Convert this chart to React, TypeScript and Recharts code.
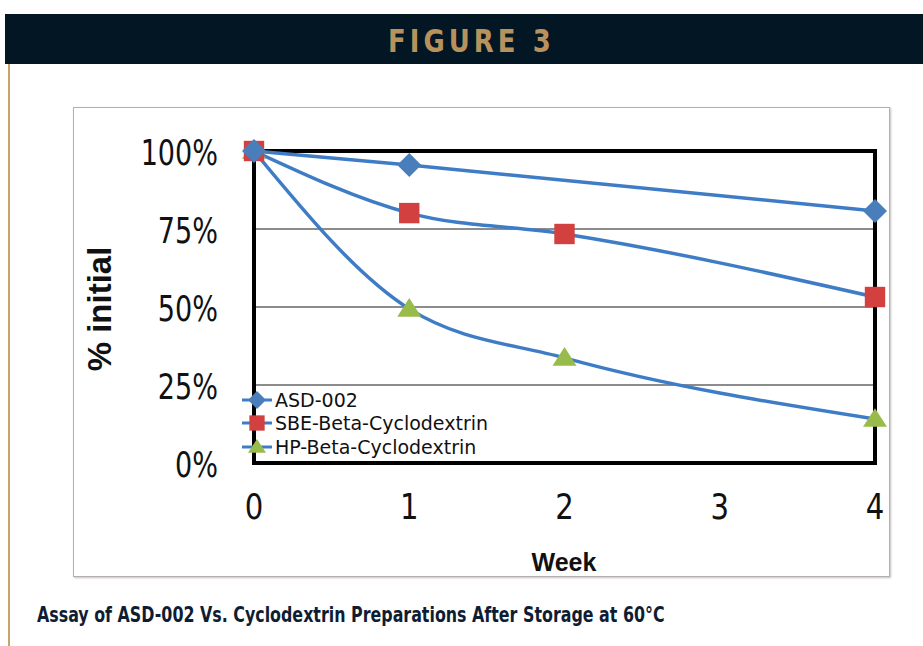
import React from "react";
import {
  CartesianGrid,
  Legend,
  Line,
  LineChart,
  ReferenceArea,
  XAxis,
  YAxis,
} from "recharts";

const weeks = [0, 1, 2, 4];
const asd002 = [100, 95.5, null, 80.8];
const sbeBeta = [100, 80.1, 73.4, 53.2];
const hpBeta = [100, 49.4, 33.7, 14.1];

const yTicks = [0, 25, 50, 75, 100];
const xTicks = [0, 1, 2, 3, 4];

const LINE_BLUE = "#3f7cc6";
const CONDENSED = "'DejaVu Sans Condensed', 'Liberation Sans', sans-serif";

type Shape = "diamond" | "square" | "triangle";

const series: { name: string; values: (number | null)[]; shape: Shape; color: string }[] = [
  { name: "ASD-002", values: asd002, shape: "diamond", color: "#4a7ebb" },
  { name: "SBE-Beta-Cyclodextrin", values: sbeBeta, shape: "square", color: "#d2413f" },
  { name: "HP-Beta-Cyclodextrin", values: hpBeta, shape: "triangle", color: "#98bb4c" },
];

function toRows(values: (number | null)[]) {
  return weeks
    .map((w, i) => ({ week: w, value: values[i] }))
    .filter((r) => r.value !== null);
}

function Marker({ shape, color, cx, cy, r }: { shape: Shape; color: string; cx: number; cy: number; r: number }) {
  if (shape === "diamond") {
    return (
      <polygon
        points={`${cx},${cy - r} ${cx + r},${cy} ${cx},${cy + r} ${cx - r},${cy}`}
        fill={color}
      />
    );
  }
  if (shape === "square") {
    const s = r * 0.85;
    return <rect x={cx - s} y={cy - s} width={s * 2} height={s * 2} fill={color} />;
  }
  return (
    <polygon
      points={`${cx},${cy - r * 0.9} ${cx + r},${cy + r * 0.65} ${cx - r},${cy + r * 0.65}`}
      fill={color}
    />
  );
}

function makeDot(shape: Shape, color: string) {
  return (props: any) => {
    const { cx, cy, index } = props;
    if (cx == null || cy == null) return <g key={index} />;
    return (
      <g key={`${shape}-${index}`}>
        <Marker shape={shape} color={color} cx={cx} cy={cy} r={12} />
      </g>
    );
  };
}

// y ticks: condensed a little so "100%" matches the narrow face of the original
function YTick(props: any) {
  const { x, y, payload } = props;
  return (
    <g transform={`translate(${x},${y + 1}) scale(0.86,1)`}>
      <text
        x={0}
        y={0}
        dy="0.36em"
        textAnchor="end"
        fontFamily={CONDENSED}
        fontSize={35}
        fill="#111"
      >
        {`${payload.value}%`}
      </text>
    </g>
  );
}

function XTick(props: any) {
  const { x, y, payload } = props;
  return (
    <g transform={`translate(${x},${y}) scale(0.9,1)`}>
      <text x={0} y={0} dy="0.71em" textAnchor="middle" fontFamily={CONDENSED} fontSize={36} fill="#111">
        {payload.value}
      </text>
    </g>
  );
}

function LegendBox() {
  return (
    <div style={{ fontFamily: "'DejaVu Sans', sans-serif", fontSize: 19, color: "#111" }}>
      {series.map((s) => (
        <div key={s.name} style={{ display: "flex", alignItems: "center", height: 23.5 }}>
          <svg width={30} height={22} style={{ marginRight: 3 }}>
            <line x1={0} y1={11} x2={30} y2={11} stroke={LINE_BLUE} strokeWidth={3} />
            <Marker shape={s.shape} color={s.color} cx={15} cy={11} r={9} />
          </svg>
          <span style={{ lineHeight: "22px" }}>{s.name}</span>
        </div>
      ))}
    </div>
  );
}

export default function App() {
  const yAxisWidth = 60;
  const xAxisHeight = 60;
  // draw HP first so the ASD diamond sits on top at week 0, as in the original
  const drawOrder = [...series].reverse();
  return (
    <div style={{ position: "absolute", left: 0, top: 0, width: 923, height: 646, background: "#fff", overflow: "hidden" }}>
      {/* banner */}
      <div
        style={{
          position: "absolute",
          left: 5,
          top: 14,
          width: 918,
          height: 50,
          background: "#021624",
        }}
      >
        <span
          style={{
            position: "absolute",
            left: 383,
            top: 8,
            fontFamily: CONDENSED,
            fontWeight: "bold",
            fontSize: 32,
            letterSpacing: 4.5,
            color: "#b8925d",
            whiteSpace: "nowrap",
            transform: "scaleX(0.9)",
            transformOrigin: "left center",
          }}
        >
          FIGURE 3
        </span>
      </div>
      {/* tan rule */}
      <div style={{ position: "absolute", left: 8, top: 64, width: 2, height: 582, background: "#c9a46a" }} />
      {/* chart frame */}
      <div
        style={{
          position: "absolute",
          left: 73,
          top: 107,
          width: 817,
          height: 470,
          border: "1px solid #b5aeae",
          boxShadow: "1px 1px 2px rgba(0,0,0,0.25)",
          boxSizing: "border-box",
        }}
      />
      <div style={{ position: "absolute", left: 0, top: 0 }}>
        <LineChart
          width={923}
          height={646}
          margin={{ top: 151, right: 48, bottom: 646 - 463 - xAxisHeight, left: 254 - yAxisWidth }}
        >
          <CartesianGrid horizontal vertical={false} stroke="#8c8c8c" strokeWidth={2} />
          <ReferenceArea
            x1={0}
            x2={4}
            y1={0}
            y2={100}
            fill="none"
            stroke="#000"
            strokeWidth={4}
            fillOpacity={0}
            ifOverflow="visible"
          />
          <XAxis
            type="number"
            dataKey="week"
            domain={[0, 4]}
            ticks={xTicks}
            height={xAxisHeight}
            axisLine={false}
            tickLine={false}
            tickSize={0}
            tickMargin={30}
            tick={<XTick />}
            allowDuplicatedCategory={false}
          />
          <YAxis
            type="number"
            domain={[0, 100]}
            ticks={yTicks}
            width={yAxisWidth}
            axisLine={false}
            tickLine={false}
            tickSize={0}
            tickMargin={36}
            tick={<YTick />}
          />
          {drawOrder.map((s) => (
            <Line
              key={s.name}
              name={s.name}
              data={toRows(s.values)}
              dataKey="value"
              type="monotone"
              stroke={LINE_BLUE}
              strokeWidth={3.5}
              dot={makeDot(s.shape, s.color)}
              activeDot={false}
              isAnimationActive={false}
            />
          ))}
          <Legend
            layout="vertical"
            align="center"
            verticalAlign="middle"
            content={() => <LegendBox />}
            wrapperStyle={{ position: "absolute", left: 242, top: 388, width: 300, height: 72 }}
          />
        </LineChart>
      </div>
      {/* axis titles */}
      <div
        style={{
          position: "absolute",
          left: 100,
          top: 309,
          transform: "translate(-50%, -50%) rotate(-90deg)",
          fontFamily: "'Liberation Sans', Arial, sans-serif",
          fontWeight: "bold",
          fontSize: 33,
          color: "#111",
          whiteSpace: "nowrap",
        }}
      >
        % initial
      </div>
      <div
        style={{
          position: "absolute",
          left: 564,
          top: 562,
          transform: "translate(-50%, -50%)",
          fontFamily: "'Liberation Sans', Arial, sans-serif",
          fontWeight: "bold",
          fontSize: 25,
          color: "#111",
          whiteSpace: "nowrap",
        }}
      >
        Week
      </div>
      {/* caption */}
      <div
        style={{
          position: "absolute",
          left: 37,
          top: 603,
          fontFamily: CONDENSED,
          fontWeight: "bold",
          fontSize: 21,
          color: "#0f1d33",
          whiteSpace: "nowrap",
          transform: "scaleX(0.84)",
          transformOrigin: "left center",
        }}
      >
        Assay of ASD-002 Vs. Cyclodextrin Preparations After Storage at 60°C
      </div>
    </div>
  );
}
